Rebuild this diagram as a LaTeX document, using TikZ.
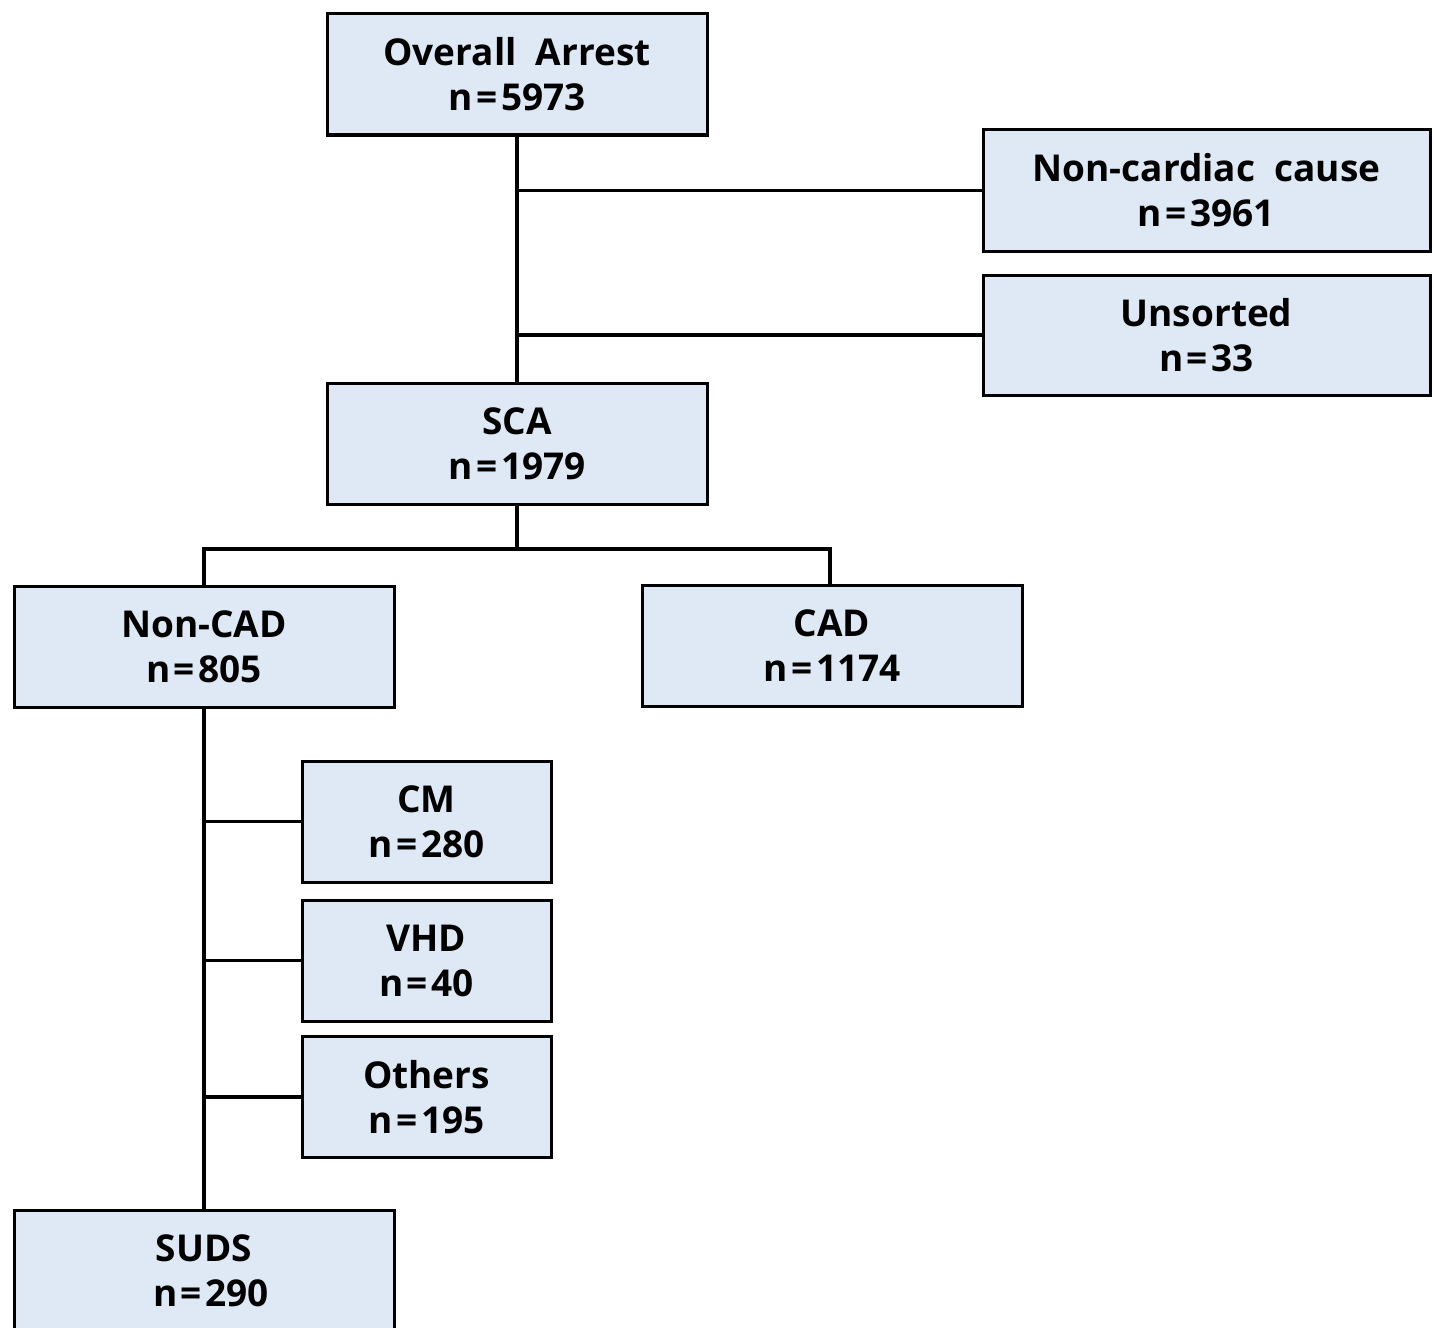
\documentclass[tikz,border=0pt]{standalone}
\usepackage{fontspec}
\setmainfont{Open Sans}
\definecolor{boxfill}{HTML}{DEE9F5}
\newcommand{\eqk}{\kern1.8pt=\kern1.8pt}
\begin{document}
\begin{tikzpicture}[x=0.5pt,y=-0.5pt,
  box/.style={draw=black, line width=1.5pt, fill=boxfill, align=center,
    font=\fontsize{18.5}{22.5}\selectfont\bfseries, inner sep=0pt, minimum height=60.5pt},
  wide/.style={box, minimum width=190pt},
  narrow/.style={box, minimum width=124.5pt},
  conn/.style={draw=black, line width=1.6pt}]
\useasboundingbox (0,0) rectangle (1434,1327);
\node[wide] (top) at (517,74.5) {Overall~ Arrest\\n\eqk5973};
\node[box, minimum width=223.5pt] (noncard) at (1206.5,190.5) {Non-cardiac~ cause\\n\eqk3961};
\node[box, minimum width=223.5pt, minimum height=60pt] (unsorted) at (1206.5,335) {Unsorted\\n\eqk33};
\node[wide] (sca) at (517,444) {SCA\\n\eqk1979};
\node[wide] (noncad) at (204,646.5) {Non-CAD\\n\eqk805};
\node[wide] (cad) at (832,646) {CAD\\n\eqk1174};
\node[narrow] (cm) at (426.5,821.5) {CM\\n\eqk280};
\node[narrow] (vhd) at (426.5,960.5) {VHD\\n\eqk40};
\node[narrow] (others) at (426.5,1097) {Others\\n\eqk195};
\node[wide] (suds) at (204,1270.5) {SUDS\\\hspace*{7pt}n\eqk290};
\coordinate (j) at (517,549);
\draw[conn] (top.south) -- (sca.north);
\draw[conn] (top.south |- noncard.west) -- (noncard.west);
\draw[conn] (top.south |- unsorted.west) -- (unsorted.west);
\draw[conn] (sca.south) -- (j);
\draw[conn] (noncad.north) |- (j) -| ([xshift=-1pt]cad.north);
\draw[conn] (noncad.south) -- (suds.north);
\draw[conn] (noncad.south |- cm.west) -- (cm.west);
\draw[conn] (noncad.south |- vhd.west) -- (vhd.west);
\draw[conn] (noncad.south |- others.west) -- (others.west);
\end{tikzpicture}
\end{document}
